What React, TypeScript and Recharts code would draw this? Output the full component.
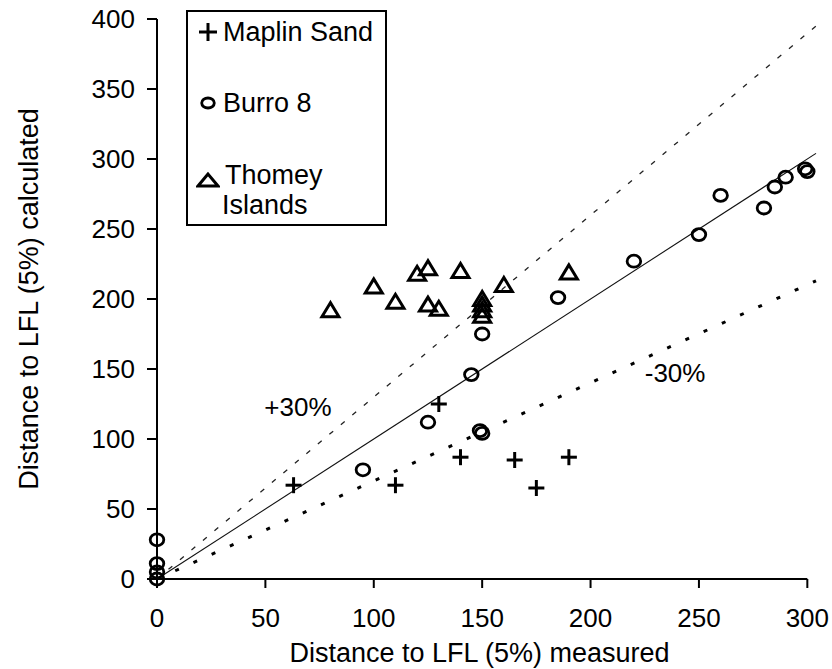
import React from 'react';
import { ScatterChart, Scatter, XAxis, YAxis, ReferenceLine, ReferenceDot, Legend } from 'recharts';

const FONT = '"Liberation Sans", Arial, sans-serif';

const maplinSand = [
  { x: 63, y: 67 }, { x: 110, y: 67 }, { x: 130, y: 125 }, { x: 140, y: 87 },
  { x: 165, y: 85 }, { x: 175, y: 65 }, { x: 190, y: 87 },
];
const burro8 = [
  { x: 0, y: 28 }, { x: 0, y: 11 }, { x: 0, y: 5 }, { x: 0, y: 0 },
  { x: 95, y: 78 }, { x: 125, y: 112 }, { x: 145, y: 146 }, { x: 150, y: 104 },
  { x: 149, y: 106 }, { x: 150, y: 175 }, { x: 185, y: 201 }, { x: 220, y: 227 },
  { x: 250, y: 246 }, { x: 260, y: 274 }, { x: 280, y: 265 }, { x: 285, y: 280 },
  { x: 290, y: 287 }, { x: 300, y: 291 }, { x: 299, y: 293 },
];
const thomeyIslands = [
  { x: 80, y: 192 }, { x: 100, y: 209 }, { x: 110, y: 198 }, { x: 120, y: 218 },
  { x: 125, y: 222 }, { x: 125, y: 196 }, { x: 130, y: 193 }, { x: 140, y: 220 },
  { x: 150, y: 200 }, { x: 150, y: 196 }, { x: 150, y: 192 }, { x: 150, y: 188 },
  { x: 160, y: 210 }, { x: 190, y: 219 },
];
const parityLine = [{ x: 0, y: 0 }, { x: 304, y: 304 }];
const plus30Line = [{ x: 0, y: 0 }, { x: 304, y: 395 }];
const minus30Line = [{ x: 0, y: 0 }, { x: 304, y: 213 }];
const xAxisBase = [{ x: 0, y: 0 }, { x: 300, y: 0 }];
const xTicks = [0, 50, 100, 150, 200, 250, 300];
const yTicks = [0, 50, 100, 150, 200, 250, 300, 350, 400];
const plusLabel = { x: 65, y: 123, text: '+30%' };
const minusLabel = { x: 239, y: 147, text: '-30%' };

const PlusShape = (p: any) => {
  const { cx, cy } = p;
  if (cx == null || cy == null) return <g />;
  return (
    <g stroke="#000" strokeWidth={3}>
      <line x1={cx - 8} y1={cy} x2={cx + 8} y2={cy} />
      <line x1={cx} y1={cy - 8} x2={cx} y2={cy + 8} />
    </g>
  );
};
const CircleShape = (p: any) => {
  const { cx, cy } = p;
  if (cx == null || cy == null) return <g />;
  return <ellipse cx={cx} cy={cy} rx={6.8} ry={6} fill="none" stroke="#000" strokeWidth={2.8} />;
};
const TriShape = (p: any) => {
  const { cx, cy } = p;
  if (cx == null || cy == null) return <g />;
  return (
    <path
      d={`M${cx},${cy - 7.5} L${cx - 8.5},${cy + 6.5} L${cx + 8.5},${cy + 6.5} Z`}
      fill="none" stroke="#000" strokeWidth={3} strokeLinejoin="miter"
    />
  );
};
const NoShape = () => <g />;

const LegendBox = () => {
  const txt: React.CSSProperties = {
    position: 'absolute', fontFamily: FONT, fontSize: 27, lineHeight: '30px',
    color: '#000', whiteSpace: 'nowrap', margin: 0,
  };
  return (
    <div style={{ position: 'relative', width: '100%', height: '100%' }}>
      <svg style={{ position: 'absolute', left: 10, top: 10 }} width={20} height={20}>
        <g stroke="#000" strokeWidth={3}>
          <line x1={1} y1={10} x2={19} y2={10} />
          <line x1={10} y1={1} x2={10} y2={19} />
        </g>
      </svg>
      <div style={{ ...txt, left: 35, top: 5 }}>Maplin Sand</div>
      <svg style={{ position: 'absolute', left: 10, top: 81 }} width={20} height={20}>
        <ellipse cx={10} cy={10} rx={6.3} ry={5} fill="none" stroke="#000" strokeWidth={2.8} />
      </svg>
      <div style={{ ...txt, left: 35, top: 76 }}>Burro 8</div>
      <svg style={{ position: 'absolute', left: 8, top: 158 }} width={24} height={20}>
        <path d="M12,4 L2,16 L22,16 Z" fill="none" stroke="#000" strokeWidth={3} />
      </svg>
      <div style={{ ...txt, left: 37, top: 148 }}>Thomey</div>
      <div style={{ ...txt, left: 34, top: 178 }}>Islands</div>
    </div>
  );
};

export default function App() {
  const tickStyle = { fontSize: 26, fill: '#000', fontFamily: FONT };
  return (
    <div style={{ position: 'absolute', left: 0, top: 0, background: '#fff' }}>
      <ScatterChart
        width={832}
        height={669}
        margin={{ top: 19, right: 16, bottom: 0, left: 0 }}
        style={{ fontFamily: FONT }}
      >
        <XAxis
          type="number"
          dataKey="x"
          domain={[0, 304]}
          ticks={xTicks}
          interval={0}
          axisLine={false}
          tickLine={{ stroke: '#000', strokeWidth: 2 }}
          tickSize={9}
          tickMargin={21}
          height={90}
          tick={tickStyle}
          label={{
            value: 'Distance to LFL (5%) measured',
            position: 'insideBottom',
            offset: 7,
            dx: -7,
            fontSize: 27,
            fill: '#000',
            fontFamily: FONT,
          }}
        />
        <YAxis
          type="number"
          dataKey="y"
          domain={[0, 400]}
          ticks={yTicks}
          interval={0}
          width={157}
          axisLine={{ stroke: '#000', strokeWidth: 2 }}
          tickLine={{ stroke: '#000', strokeWidth: 2 }}
          tickSize={10}
          tickMargin={12}
          tick={tickStyle}
          label={{
            value: 'Distance to LFL (5%) calculated',
            angle: -90,
            position: 'insideLeft',
            offset: 28,
            style: { textAnchor: 'middle' },
            fontSize: 27,
            fill: '#000',
            fontFamily: FONT,
          }}
        />
        <ReferenceLine segment={xAxisBase} stroke="#000" strokeWidth={2} />
        <Scatter data={plus30Line} shape={NoShape} line={{ stroke: '#222', strokeWidth: 1.3, strokeDasharray: '5 10' }} isAnimationActive={false} legendType="none" />
        <Scatter data={parityLine} shape={NoShape} line={{ stroke: '#111', strokeWidth: 1.1 }} isAnimationActive={false} legendType="none" />
        <Scatter data={minus30Line} shape={NoShape} line={{ stroke: '#000', strokeWidth: 3, strokeDasharray: '4 16' }} isAnimationActive={false} legendType="none" />
        <Scatter name="Maplin Sand" data={maplinSand} shape={PlusShape} isAnimationActive={false} />
        <Scatter name="Burro 8" data={burro8} shape={CircleShape} isAnimationActive={false} />
        <Scatter name="Thomey Islands" data={thomeyIslands} shape={TriShape} isAnimationActive={false} />
        <ReferenceDot x={plusLabel.x} y={plusLabel.y} r={1} fill="none" stroke="none"
          label={{ value: plusLabel.text, position: 'center', fontSize: 26, fill: '#000', fontFamily: FONT }} />
        <ReferenceDot x={minusLabel.x} y={minusLabel.y} r={1} fill="none" stroke="none"
          label={{ value: minusLabel.text, position: 'center', fontSize: 26, fill: '#000', fontFamily: FONT }} />
        <Legend
          layout="vertical"
          align="center"
          verticalAlign="middle"
          wrapperStyle={{
            left: 186, top: 10, width: 201, height: 216, border: '2px solid #000',
            boxSizing: 'border-box', background: '#fff', margin: 0, padding: 0,
          }}
          content={() => <LegendBox />}
        />
      </ScatterChart>
    </div>
  );
}
